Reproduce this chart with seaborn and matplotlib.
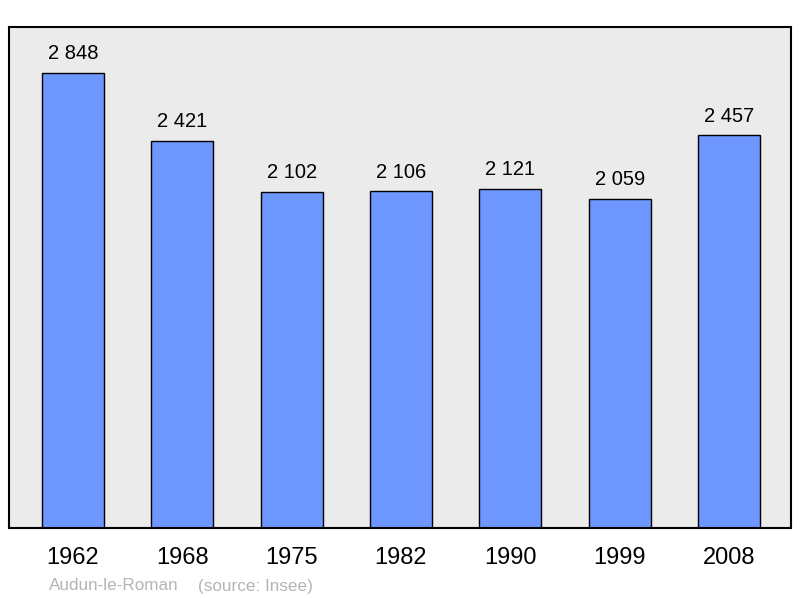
import matplotlib
matplotlib.use("Agg")
import matplotlib.pyplot as plt
import seaborn as sns
import pandas as pd

years = ["1962", "1968", "1975", "1982", "1990", "1999", "2008"]
population = [2848, 2421, 2102, 2106, 2121, 2059, 2457]
value_labels = ["2 848", "2 421", "2 102", "2 106", "2 121", "2 059", "2 457"]
place = "Audun-le-Roman"
source = "(source: Insee)"

sns.set_theme(style="white")
plt.rcParams["font.family"] = ["Liberation Sans", "DejaVu Sans"]

df = pd.DataFrame({"year": years, "pop": population})

fig = plt.figure(figsize=(8, 5.98), dpi=100)
ax = fig.add_axes([9/800, 70/598, 782/800, 501/598])
ax.set_facecolor("#ebebeb")

sns.barplot(data=df, x="year", y="pop", color="#6e96ff", saturation=1,
            width=0.567, edgecolor="black", linewidth=1.0, ax=ax)

ax.set_xlim(-0.585, 6.567)
ax.set_ylim(0, 3135)
for i, (v, lab) in enumerate(zip(population, value_labels)):
    ax.annotate(lab, (i, v), xytext=(0, 7), textcoords="offset points",
                ha="center", va="bottom", fontsize=14.5, color="black")

ax.set_yticks([])
ax.set_xlabel("")
ax.set_ylabel("")
ax.tick_params(axis="x", length=0, labelsize=17, pad=14, colors="black")
for s in ax.spines.values():
    s.set_visible(True)
    s.set_color("black")
    s.set_linewidth(1.5)

fig.text(49/800, 1 - 586/598, place, fontsize=12.3, color="#b4b4b4", va="center", ha="left")
fig.text(198/800, 1 - 586/598, source, fontsize=12.3, color="#b4b4b4", va="center", ha="left")

fig.savefig("out.png", dpi=100, facecolor="white")
